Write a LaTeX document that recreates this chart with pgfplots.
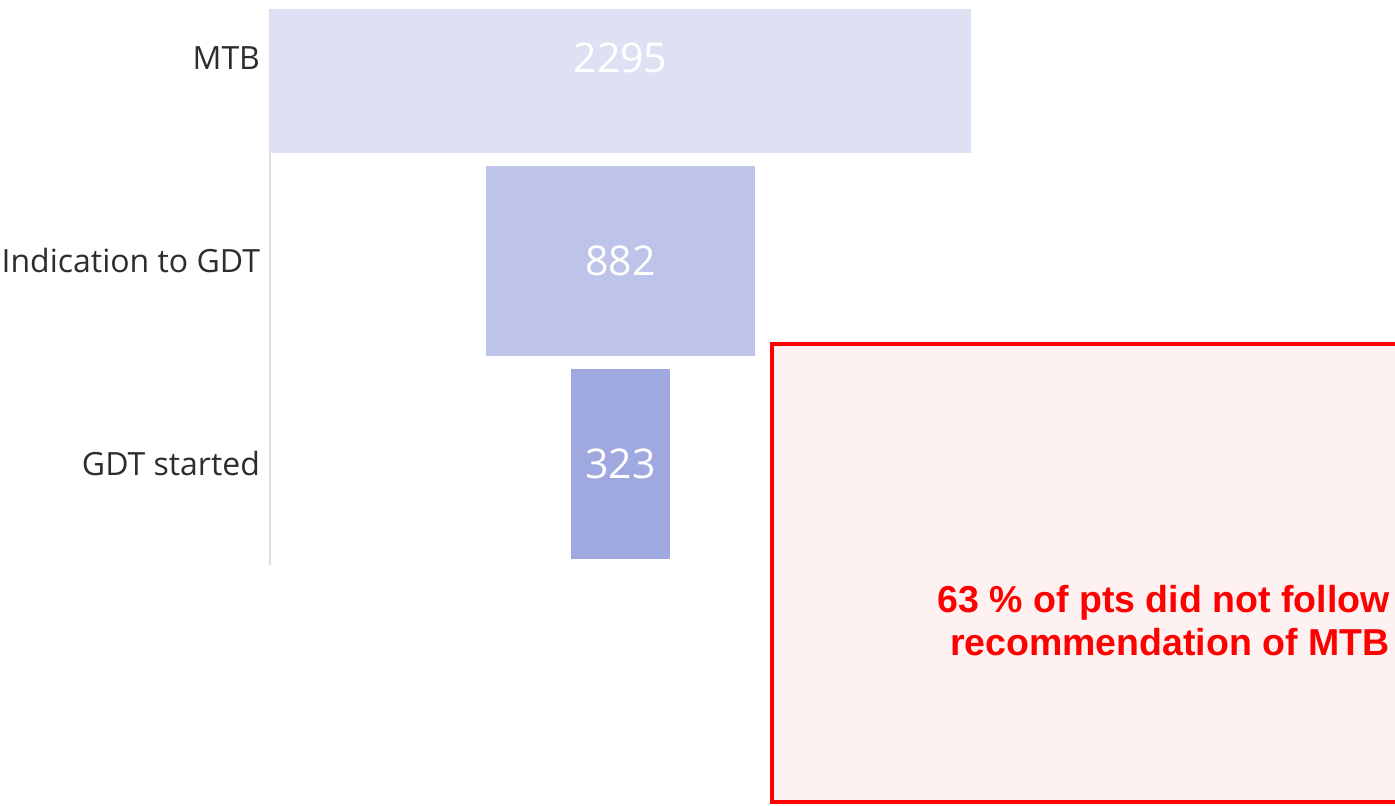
\documentclass[border=0pt]{standalone}
\usepackage{fontspec}
\setmainfont{Open Sans}
\newfontfamily\arialfont{Liberation Sans}
\usepackage{pgfplots}
\pgfplotsset{compat=1.18}

\definecolor{mtbblue}{RGB}{222,224,244}
\definecolor{indblue}{RGB}{190,195,234}
\definecolor{gdtblue}{RGB}{160,168,224}
\definecolor{labelgray}{RGB}{45,45,45}
\definecolor{boxfill}{RGB}{253,241,241}

% shared geometry of the funnel axis (1 px of the reference = 0.5pt)
\pgfplotsset{funnelgeom/.style={
    at={(135pt,120pt)}, anchor=south west,
    scale only axis,
    width=350.5pt, height=278pt,
    xmin=0, xmax=2295,
    ymin=-0.5, ymax=2.241,
}}

\begin{document}
\begin{tikzpicture}
\path[use as bounding box] (0,0) rectangle (697.5pt,402.5pt);
\begin{axis}[
    funnelgeom,
    xbar stacked,
    bar width=95pt,
    axis x line=none,
    axis y line*=left,
    axis line style={draw=black!13, line width=0.6pt, -},
    ytick={0,1,2},
    yticklabels={GDT started, Indication to GDT, MTB},
    major tick length=0pt,
    yticklabel style={font=\fontsize{16}{19}\selectfont, text=labelgray, xshift=-1.5pt},
]
% invisible offsets centre each bar on 2295/2
\addplot[draw=none, fill=none] coordinates {(986,0) (706.5,1) (0,2)};
\addplot[draw=none, fill=mtbblue] coordinates {(0,0) (0,1) (2295,2)};
\addplot[draw=none, fill=indblue] coordinates {(0,0) (882,1) (0,2)};
\addplot[draw=none, fill=gdtblue] coordinates {(323,0) (0,1) (0,2)};
\end{axis}
% value labels in the middle of the bars
\begin{axis}[funnelgeom, hide axis, clip=false]
\addplot[only marks, mark=none,
    nodes near coords, point meta=explicit symbolic,
    nodes near coords style={anchor=center, text=white, font=\fontsize{20.5}{24}\selectfont}]
    coordinates {(1147.5,0) [323] (1147.5,1) [882] (1147.5,2) [2295]};
\end{axis}
\draw[red, line width=2.2pt, fill=boxfill] (386pt,1.5pt) rectangle (705pt,230.5pt);
\node[anchor=base east, inner sep=0pt, text=red, font=\arialfont\bfseries\fontsize{18.75}{21.5}\selectfont]
    at (695pt,96.5pt) {63 \% of pts did not follow};
\node[anchor=base east, inner sep=0pt, text=red, font=\arialfont\bfseries\fontsize{18.75}{21.5}\selectfont]
    at (695pt,75pt) {recommendation of MTB};
\end{tikzpicture}
\end{document}
